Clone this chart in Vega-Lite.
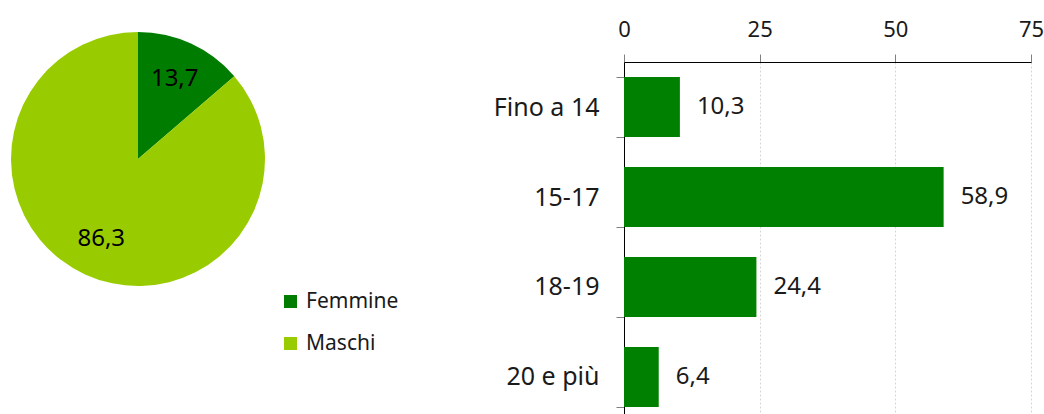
{
  "$schema": "https://vega.github.io/schema/vega-lite/v6.json",
  "padding": {"left": 0, "top": 18, "right": 0, "bottom": 0},
  "background": "white",
  "config": {
    "view": {"stroke": null},
    "font": "Noto Sans",
    "locale": {"number": {"decimal": ",", "thousands": ".", "grouping": [3], "currency": ["€", ""]}}
  },
  "spacing": 217,
  "hconcat": [
    {
      "width": 276,
      "height": 194,
      "data": {"values": [
        {"sesso": "Femmine", "valore": 13.7, "ordine": 1},
        {"sesso": "Maschi", "valore": 86.3, "ordine": 2}
      ]},
      "encoding": {
        "theta": {"field": "valore", "type": "quantitative", "stack": true},
        "order": {"field": "ordine", "type": "quantitative"},
        "color": {
          "field": "sesso", "type": "nominal",
          "scale": {"domain": ["Femmine", "Maschi"], "range": ["#007d00", "#99cc00"]},
          "legend": {
            "title": null, "orient": "none", "legendX": 280, "legendY": 229,
            "symbolType": "square", "symbolSize": 170, "symbolStrokeWidth": 0,
            "labelFontSize": 21, "labelColor": "#1a1a1a", "rowPadding": 20, "labelOffset": 5
          }
        }
      },
      "layer": [
        {"mark": {"type": "arc", "outerRadius": 127}},
        {
          "mark": {"type": "text", "radius": 88, "fontSize": 24, "color": "black"},
          "encoding": {"text": {"field": "valore", "type": "quantitative", "format": ".1f"}, "color": {"value": "black"}}
        }
      ]
    },
    {
      "width": 407,
      "height": 360,
      "data": {"values": [
        {"classe": "Fino a 14", "valore": 10.3},
        {"classe": "15-17", "valore": 58.9},
        {"classe": "18-19", "valore": 24.4},
        {"classe": "20 e più", "valore": 6.4}
      ]},
      "encoding": {
        "y": {
          "field": "classe", "type": "nominal", "sort": null,
          "scale": {"paddingInner": 0.333, "paddingOuter": 0.167},
          "axis": {
            "title": null, "labelFontSize": 25, "labelColor": "#1a1a1a", "labelPadding": 17,
            "tickBand": "extent", "tickSize": 8, "tickColor": "#808080", "domainColor": "black"
          }
        },
        "x": {
          "field": "valore", "type": "quantitative",
          "scale": {"domain": [0, 75], "nice": false},
          "axis": {
            "orient": "top", "title": null, "values": [0, 25, 50, 75], "labelFlush": false,
            "labelFontSize": 22, "labelColor": "#1a1a1a", "labelPadding": 13,
            "tickSize": 8, "tickColor": "#808080", "domainColor": "black",
            "grid": true, "gridDash": [2, 2], "gridColor": "#d6d6d6"
          }
        }
      },
      "layer": [
        {"mark": {"type": "bar", "color": "#008000"}},
        {
          "mark": {"type": "text", "align": "left", "baseline": "middle", "dx": 17, "fontSize": 24, "color": "#1a1a1a"},
          "encoding": {"text": {"field": "valore", "type": "quantitative", "format": ".1f"}}
        }
      ]
    }
  ]
}
